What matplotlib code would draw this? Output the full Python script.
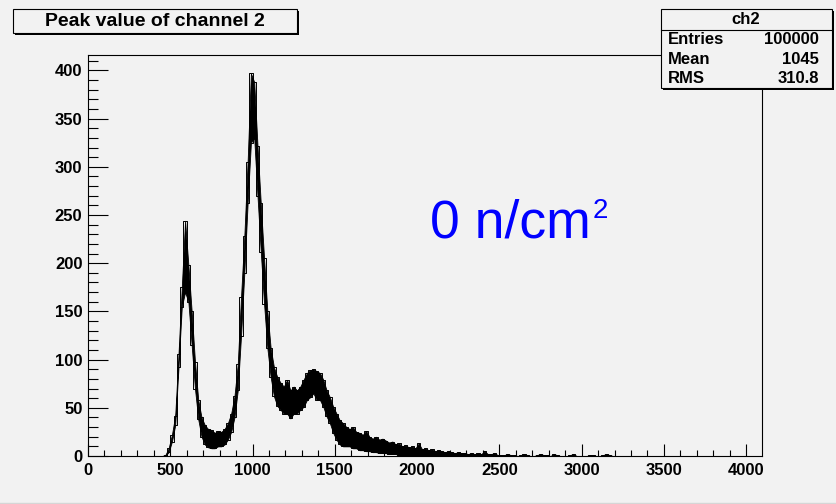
import numpy as np
import matplotlib
matplotlib.use("Agg")
import matplotlib.pyplot as plt
from matplotlib.patches import Rectangle
from matplotlib.lines import Line2D
from matplotlib.ticker import MultipleLocator

plt.rcParams["font.family"] = ["Liberation Sans", "DejaVu Sans"]

# Peak-value spectrum of channel 2, sampled every 20 ADC channels.
# env_low / env_high give the lower and upper edge of the noisy band that the
# fine-binned histogram traces around each sampled channel.
channel_first = 450
channel_step = 20
env_low = [
    0, 0, 4, 15, 32, 92, 155, 170, 160, 115,
    70, 38, 20, 12, 9, 8, 8, 10, 10, 12,
    17, 25, 40, 68, 125, 190, 262, 325, 330, 270,
    212, 158, 112, 82, 62, 52, 48, 44, 44, 39,
    44, 44, 48, 51, 58, 61, 65, 58, 58, 51,
    41, 34, 24, 17, 12, 10, 10, 10, 8, 8,
    6, 6, 5, 5, 4, 4, 3, 3, 3, 2,
    2, 2, 1, 1, 1, 0, 0, 0, 0, 0,
    0, 0, 0, 0, 0, 0, 0, 0, 0, 0,
    0, 0, 0, 0, 0, 0, 0, 0, 0, 0,
    0, 0, 0, 0, 0, 0, 0, 0, 0, 0,
    0, 0, 0, 0, 0, 0, 0, 0, 0, 0,
    0, 0, 0, 0, 0, 0, 0, 0, 0, 0,
    0, 0, 0, 0, 0, 0, 0, 0,
]
env_high = [
    0, 1, 8, 22, 42, 106, 175, 244, 198, 150,
    98, 58, 40, 32, 28, 27, 24, 26, 25, 28,
    34, 44, 62, 95, 165, 228, 305, 397, 388, 322,
    262, 205, 150, 112, 92, 82, 76, 72, 79, 68,
    72, 68, 72, 79, 86, 89, 90, 88, 86, 79,
    68, 61, 51, 44, 37, 34, 30, 28, 30, 25,
    24, 22, 26, 20, 18, 20, 17, 18, 16, 14,
    15, 12, 13, 10, 11, 9, 10, 8, 13, 7,
    8, 6, 7, 5, 6, 5, 4, 5, 4, 3,
    4, 3, 3, 2, 3, 2, 3, 2, 5, 2,
    2, 3, 1, 1, 1, 2, 1, 1, 0, 1,
    2, 1, 0, 0, 1, 2, 1, 1, 0, 2,
    1, 0, 0, 0, 1, 2, 0, 0, 0, 0,
    1, 1, 0, 0, 1, 2, 1, 0,
]

hist_title = "Peak value of channel 2"
stats_name = "ch2"
stats_labels = ["Entries", "Mean", "RMS"]
stats_values = ["100000", "1045", "310.8"]
fluence_text = "0 n/cm"
fluence_power = "2"

x_range = (0, 4096)
y_range = (0, 416)

W, H = 836, 504
BG = "#f2f2f2"
fig = plt.figure(figsize=(W / 100, H / 100), dpi=100, facecolor=BG)


def fx(px):
    return px / W


def fy(py):
    return 1 - py / H


# frame of the histogram pad
ax = fig.add_axes([fx(88), fy(456), fx(762) - fx(88), fy(55) - fy(456)])
ax.set_facecolor(BG)

channels = channel_first + channel_step * np.arange(len(env_high))
ax.fill_between(channels, env_low, env_high, facecolor="black",
                edgecolor="black", linewidth=0.6)
# step outline of both band edges, as the binned histogram draws them
ax.step(channels, env_high, where="mid", color="black", linewidth=0.7)
ax.step(channels, env_low, where="mid", color="black", linewidth=0.7)

ax.set_xlim(*x_range)
ax.set_ylim(*y_range)
ax.xaxis.set_major_locator(MultipleLocator(500))
ax.xaxis.set_minor_locator(MultipleLocator(100))
ax.yaxis.set_major_locator(MultipleLocator(50))
ax.yaxis.set_minor_locator(MultipleLocator(10))
ax.tick_params(axis="x", which="major", direction="in", length=8.6,
               width=0.8, pad=5, labelsize=12)
ax.tick_params(axis="x", which="minor", direction="in", length=4.3, width=0.8)
ax.tick_params(axis="y", which="major", direction="in", length=14.4,
               width=0.8, pad=4, labelsize=12)
ax.tick_params(axis="y", which="minor", direction="in", length=7.2, width=0.8)
for lab in ax.get_xticklabels() + ax.get_yticklabels():
    lab.set_fontweight("bold")
for sp in ax.spines.values():
    sp.set_linewidth(0.8)


def shadow_box(x0, y0, x1, y1, shade=2):
    """Box with a drop shadow, in pixel coordinates (y downwards)."""
    fig.add_artist(Rectangle((fx(x0 + shade), fy(y1 + shade)),
                             fx(x1 - x0), fy(y0) - fy(y1),
                             transform=fig.transFigure, facecolor="black",
                             edgecolor="none", zorder=5))
    fig.add_artist(Rectangle((fx(x0), fy(y1)), fx(x1 - x0), fy(y0) - fy(y1),
                             transform=fig.transFigure, facecolor=BG,
                             edgecolor="black", linewidth=0.8, zorder=6))


# title box
shadow_box(13, 9, 297, 33)
fig.text(fx(155), fy(21.5), hist_title, ha="center", va="center",
         fontsize=14, fontweight="bold", zorder=7)

# statistics box
shadow_box(661, 9, 832, 88)
fig.add_artist(Line2D([fx(661), fx(832)], [fy(30), fy(30)],
                      transform=fig.transFigure, color="black",
                      linewidth=0.8, zorder=7))
fig.text(fx(746), fy(19), stats_name, ha="center", va="center",
         fontsize=12, fontweight="bold", zorder=7)
for i, (lab, val) in enumerate(zip(stats_labels, stats_values)):
    yy = fy(39.5 + 19.5 * i)
    fig.text(fx(668), yy, lab, ha="left", va="center",
             fontsize=12, fontweight="bold", zorder=7)
    fig.text(fx(819), yy, val, ha="right", va="center",
             fontsize=12, fontweight="bold", zorder=7)

# fluence annotation
fig.text(fx(430), fy(238), fluence_text, ha="left", va="baseline",
         fontsize=38.5, color="#0000ff")
fig.text(fx(593), fy(218), fluence_power, ha="left", va="baseline",
         fontsize=20, color="#0000ff")

# lower edge of the canvas
fig.add_artist(Line2D([0, 1], [fy(502.5), fy(502.5)],
                      transform=fig.transFigure, color="#d6d6d6",
                      linewidth=1))
fig.add_artist(Rectangle((0, 0), 1, fy(503), transform=fig.transFigure,
                         facecolor="white", edgecolor="none"))

fig.savefig("out.png", dpi=100, facecolor=BG)
